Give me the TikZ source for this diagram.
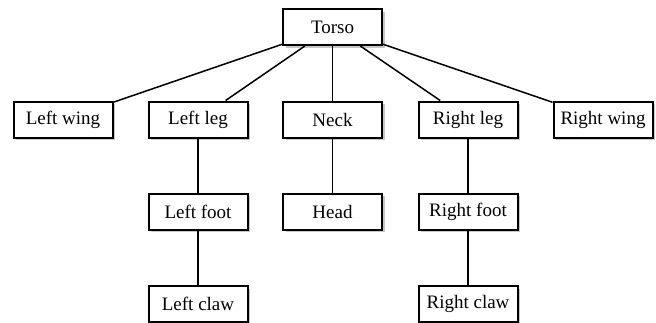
\documentclass[tikz,border=0pt]{standalone}
\usepackage{fontspec}
\setmainfont{Liberation Serif}
\usetikzlibrary{shadows}
\begin{document}
\begin{tikzpicture}[x=1pt,y=-1pt,
  part/.style={draw=black, line width=2pt, fill=white, minimum width=99pt, minimum height=36pt,
    inner sep=0pt, font=\fontsize{19}{21}\selectfont,
    drop shadow={opacity=0.45, shadow xshift=2.5pt, shadow yshift=-2.5pt}},
  link/.style={line width=1.5pt}]
\useasboundingbox (0,0) rectangle (656,322);
\clip (0,0) rectangle (656,322);
\node[part] (torso) at (332.5,27) {Torso};
\node[part] (lwing) at (63,119.5) {Left wing};
\node[part] (lleg) at (198,119.5) {Left leg};
\node[part] (neck) at (332.5,119.5) {Neck};
\node[part] (rleg) at (468,119.5) {Right leg};
\node[part] (rwing) at (603,119.5) {Right wing};
\node[part] (lfoot) at (198,211.5) {Left foot};
\node[part] (head) at (332.5,211.5) {Head};
\node[part] (rfoot) at (468,211.5) {Right foot};
\node[part] (lclaw) at (198,304) {Left claw};
\node[part] (rclaw) at (468,304) {Right claw};
\draw[link] (torso) -- (lwing);
\draw[link] (torso) -- (lleg);
\draw[link] (torso) -- (neck);
\draw[link] (torso) -- (rleg);
\draw[link] (torso) -- (rwing);
\draw[link] (lleg) -- (lfoot);
\draw[link] (neck) -- (head);
\draw[link] (rleg) -- (rfoot);
\draw[link] (lfoot) -- (lclaw);
\draw[link] (rfoot) -- (rclaw);
\end{tikzpicture}
\end{document}
